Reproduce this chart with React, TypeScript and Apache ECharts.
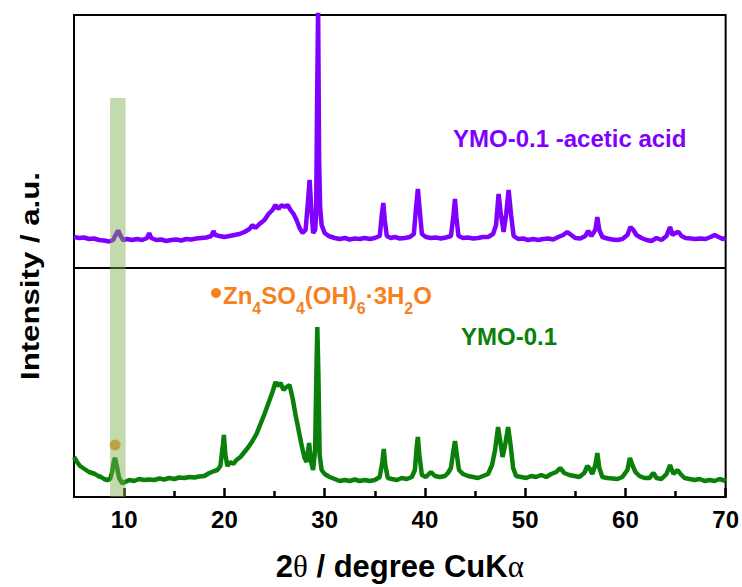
import React, { useEffect, useRef } from "react";
import * as echarts from "echarts";

// ---------- data ----------
const xMajorTicks = [10, 20, 30, 40, 50, 60, 70];
const xMinorTicks = [15, 25, 35, 45, 55, 65];

// YMO-0.1 -acetic acid (offset trace, a.u.)
const acidTheta = [
  5.0, 5.5, 6.0, 6.5, 7.0, 7.5, 8.0, 8.5, 8.9, 9.2,
  9.4, 9.6, 9.9, 10.3, 10.8, 11.3, 11.8, 12.3, 12.5, 12.7,
  13.2, 13.7, 14.2, 14.7, 15.2, 15.7, 16.2, 16.7, 17.2, 17.7,
  18.2, 18.7, 18.9, 19.1, 19.5, 20.0, 20.5, 21.0, 21.5, 22.0,
  22.5, 22.8, 23.1, 23.5, 24.0, 24.4, 24.8, 25.1, 25.4, 25.7,
  26.0, 26.3, 26.6, 26.9, 27.2, 27.5, 27.8, 28.1, 28.35, 28.5,
  28.65, 28.85, 29.05, 29.15, 29.25, 29.35, 29.45, 29.55, 29.7, 30.0,
  30.4, 31.0, 31.5, 32.0, 32.5, 33.0, 33.5, 34.0, 34.5, 35.0,
  35.5, 35.7, 35.85, 36.0, 36.2, 36.6, 37.0, 37.5, 38.0, 38.5,
  38.9, 39.1, 39.3, 39.5, 39.7, 40.1, 40.6, 41.1, 41.6, 42.1,
  42.6, 42.85, 43.0, 43.15, 43.35, 43.8, 44.3, 44.8, 45.3, 45.8,
  46.3, 46.8, 47.1, 47.35, 47.55, 47.85, 48.1, 48.35, 48.6, 48.85,
  49.3, 49.8, 50.3, 50.8, 51.3, 51.8, 52.3, 52.8, 53.3, 53.8,
  54.2, 54.6, 55.0, 55.5, 56.0, 56.3, 56.6, 57.0, 57.2, 57.4,
  57.7, 58.2, 58.7, 59.2, 59.7, 60.2, 60.5, 60.8, 61.1, 61.6,
  62.1, 62.6, 63.1, 63.6, 64.1, 64.45, 64.7, 65.0, 65.3, 65.6,
  66.0, 66.5, 67.0, 67.5, 68.0, 68.5, 68.9, 69.3, 69.7, 70.0,
];
const acidIntensity = [
  260, 259, 259.5, 258, 258.5, 257, 256.5, 255.5, 257, 263,
  266.5, 262, 257, 258, 257, 258, 257, 259, 264, 259,
  257, 257.5, 256, 257, 257.5, 256.5, 258, 257.5, 258.5, 259,
  259.5, 261, 266, 262, 261, 260, 261, 262, 263, 265,
  268, 272, 269, 273, 277, 283, 287, 292, 288, 292,
  290, 292, 287, 283, 277, 269, 264, 267, 297, 317,
  292, 264, 267, 282, 397, 490, 337, 290, 272, 264,
  261, 259, 258, 259, 257.5, 258.5, 258, 259, 258, 259,
  261, 282, 294, 277, 261, 259, 260, 258.5, 259, 260,
  263, 287, 308, 285, 263, 260, 259, 259.5, 258.5, 259.5,
  261, 282, 298, 279, 261, 259, 259.5, 258.5, 259, 260,
  260, 263, 272, 303, 285, 265, 282, 307, 282, 261,
  258, 258.5, 257, 258, 257, 258, 258.5, 257.5, 260, 262,
  265, 262, 259, 258.5, 261, 266, 261, 267, 280, 267,
  260, 258.5, 257.5, 257, 258, 262, 270, 267, 262, 259,
  257, 256, 259, 257, 261, 270, 262, 264, 265, 261,
  259, 258.5, 258, 258.5, 258, 260, 262, 260, 258, 259,
];

// YMO-0.1 (a.u.)
const ymoTheta = [
  5.0, 5.3, 5.6, 5.9, 6.2, 6.5, 6.8, 7.1, 7.4, 7.7,
  8.0, 8.3, 8.6, 8.8, 9.0, 9.1, 9.25, 9.5, 9.8, 10.1,
  10.5, 11.0, 11.5, 12.0, 12.5, 13.0, 13.5, 14.0, 14.5, 15.0,
  15.5, 16.0, 16.5, 17.0, 17.5, 18.0, 18.5, 19.0, 19.3, 19.6,
  19.85, 19.95, 20.1, 20.3, 20.6, 20.9, 21.2, 21.6, 22.0, 22.4,
  22.8, 23.2, 23.6, 24.0, 24.4, 24.8, 25.1, 25.3, 25.6, 25.9,
  26.2, 26.5, 26.8, 27.1, 27.4, 27.7, 28.0, 28.2, 28.45, 28.65,
  28.85, 29.05, 29.2, 29.27, 29.38, 29.5, 29.7, 30.0, 30.5, 31.0,
  31.5, 32.0, 32.5, 33.0, 33.5, 34.0, 34.5, 35.0, 35.5, 35.75,
  35.9, 36.05, 36.3, 36.7, 37.2, 37.7, 38.2, 38.7, 39.0, 39.2,
  39.3, 39.45, 39.7, 40.1, 40.6, 41.0, 41.5, 42.0, 42.3, 42.6,
  42.85, 43.0, 43.15, 43.4, 43.8, 44.3, 44.8, 45.3, 45.8, 46.3,
  46.7, 47.0, 47.3, 47.5, 47.75, 48.0, 48.3, 48.55, 48.8, 49.1,
  49.6, 50.1, 50.6, 51.1, 51.6, 52.1, 52.6, 53.1, 53.5, 53.9,
  54.4, 54.9, 55.4, 55.9, 56.2, 56.4, 56.7, 57.0, 57.2, 57.4,
  57.7, 58.2, 58.7, 59.2, 59.7, 60.2, 60.45, 60.7, 61.0, 61.4,
  61.9, 62.4, 62.8, 63.1, 63.6, 64.1, 64.45, 64.8, 65.2, 65.5,
  65.9, 66.4, 66.9, 67.4, 67.9, 68.4, 68.9, 69.4, 70.0,
];
const ymoIntensity = [
  40, 35, 31, 29, 27, 25, 24, 23, 21, 20,
  18, 17, 18, 25, 37, 39, 32, 19, 14, 15,
  17, 16, 18, 17, 17.5, 17, 18.5, 17.5, 19, 18,
  19.5, 19, 20, 19.5, 20.5, 21, 24, 26, 27, 31,
  52, 62, 42, 31, 35, 33, 37, 40, 45, 50,
  56, 63, 73, 83, 94, 105, 115, 111, 114, 107,
  110, 112, 99, 82, 67, 52, 39, 35, 54, 35,
  27, 47, 137, 170, 122, 42, 27, 23, 20, 18,
  16, 17, 16, 17.5, 16, 17, 16, 17, 20, 35,
  48, 32, 19, 18, 17, 19, 18, 20, 27, 52,
  60, 42, 22, 20, 25, 21, 20, 21, 24, 29,
  47, 56, 45, 27, 23, 21, 20, 19, 21, 23,
  32, 47, 70, 57, 40, 52, 70, 52, 29, 21,
  20, 19, 21, 20, 22, 20, 23, 25, 29, 24,
  22, 21, 20, 24, 31, 29, 23, 32, 44, 29,
  20, 19, 18.5, 18, 20, 27, 39, 32, 25, 21,
  19, 19, 24, 19, 18, 23, 32, 23, 27, 23,
  19, 18, 17, 18, 16, 17, 16, 18, 16,
];

// Zn4SO4(OH)6·3H2O marker
const phaseMarkTheta = [9.1];
const phaseMarkIntensity = [52];

// highlighted 2θ band and panel divider
const bandTheta = [8.6, 10.15];
const bandTop = [399];
const dividerLevel = [229];

const Y_MAX = 482;

const PURPLE = "#8000FF";
const GREEN = "#0A800A";
const ORANGE = "#F5821F";
const FONT = "'Liberation Sans', Arial, sans-serif";

export default function App() {
  const ref = useRef<HTMLDivElement>(null);

  useEffect(() => {
    if (!ref.current) return;
    const chart = echarts.init(ref.current, null, { renderer: "svg" });

    const acidData = acidTheta.map((t, i) => [t, acidIntensity[i]]);
    const ymoData = ymoTheta.map((t, i) => [t, ymoIntensity[i]]);
    const markData = phaseMarkTheta.map((t, i) => [t, phaseMarkIntensity[i]]);

    const option: any = {
      animation: false,
      grid: {
        left: 74,
        right: 16,
        top: 15,
        bottom: 90,
        show: true,
        borderColor: "#000",
        borderWidth: 2,
      },
      xAxis: [
        {
          type: "value",
          min: 5,
          max: 70,
          splitLine: { show: false },
          axisLine: { show: true, onZero: false, lineStyle: { color: "#000", width: 2 } },
          axisTick: {
            show: true,
            inside: true,
            length: 9,
            customValues: xMajorTicks,
            lineStyle: { color: "#000", width: 2.5 },
          },
          axisLabel: {
            customValues: xMajorTicks,
            color: "#000",
            fontSize: 24,
            fontWeight: "bold",
            fontFamily: FONT,
            margin: 10,
          },
          name: "{a|2}{g|θ}{a| / degree CuK}{g|α}",
          nameLocation: "middle",
          nameGap: 54,
          nameTextStyle: {
            rich: {
              a: { fontSize: 31, fontWeight: "bold", fontFamily: FONT, color: "#000" },
              g: { fontSize: 31, fontWeight: "normal", fontFamily: "'Liberation Serif', serif", color: "#000" },
            },
          },
        },
        {
          type: "value",
          min: 5,
          max: 70,
          position: "bottom",
          splitLine: { show: false },
          axisLine: { show: false, onZero: false },
          axisTick: {
            show: true,
            inside: true,
            length: 6,
            customValues: xMinorTicks,
            lineStyle: { color: "#000", width: 2.5 },
          },
          axisLabel: { show: false },
        },
      ],
      yAxis: {
        type: "value",
        min: 0,
        max: Y_MAX,
        splitLine: { show: false },
        axisLine: { show: true, lineStyle: { color: "#000", width: 2 } },
        axisTick: { show: false },
        axisLabel: { show: false },
      },
      series: [
        {
          name: "YMO-0.1 -acetic acid",
          type: "line",
          data: acidData,
          showSymbol: false,
          symbol: "none",
          clip: true,
          lineStyle: { color: PURPLE, width: 4.5 },
          z: 2,
          markLine: {
            silent: true,
            symbol: "none",
            label: { show: false },
            lineStyle: { color: "#000", width: 2, type: "solid" },
            data: dividerLevel.map((v) => ({ yAxis: v })),
          },
        },
        {
          name: "YMO-0.1",
          type: "line",
          data: ymoData,
          showSymbol: false,
          symbol: "none",
          clip: true,
          lineStyle: { color: GREEN, width: 4.5 },
          z: 2,
        },
        {
          name: "Zn4SO4(OH)6·3H2O",
          type: "scatter",
          data: markData,
          symbolSize: 11,
          itemStyle: { color: ORANGE },
          z: 3,
        },
        {
          name: "band",
          type: "line",
          data: [],
          markArea: {
            silent: true,
            z: 10,
            itemStyle: { color: "rgba(120,172,72,0.45)" },
            data: [[{ xAxis: bandTheta[0], yAxis: 0 }, { xAxis: bandTheta[1], yAxis: bandTop[0] }]],
          },
        },
      ],
      graphic: [
        {
          type: "text",
          x: 30,
          y: 276,
          rotation: Math.PI / 2,
          scaleX: 1.2,
          style: {
            text: "Intensity / a.u.",
            fontSize: 26,
            fontWeight: "bold",
            fontFamily: FONT,
            fill: "#000",
            align: "center",
            verticalAlign: "middle",
          },
        },
        {
          type: "text",
          x: 453,
          y: 138,
          style: {
            text: "YMO-0.1 -acetic acid",
            fontSize: 24,
            fontWeight: "bold",
            fontFamily: FONT,
            fill: PURPLE,
            align: "left",
            verticalAlign: "middle",
          },
        },
        {
          type: "text",
          x: 461,
          y: 336,
          style: {
            text: "YMO-0.1",
            fontSize: 24,
            fontWeight: "bold",
            fontFamily: FONT,
            fill: GREEN,
            align: "left",
            verticalAlign: "middle",
          },
        },
        {
          type: "circle",
          shape: { cx: 216, cy: 293, r: 5 },
          style: { fill: ORANGE },
        },
        {
          type: "text",
          x: 223,
          y: 283,
          style: {
            text: "{m|Zn}{s|4}{m|SO}{s|4}{m|(OH)}{s|6}{m|·3H}{s|2}{m|O}",
            align: "left",
            verticalAlign: "top",
            rich: {
              m: {
                fontSize: 24,
                fontWeight: "bold",
                fontFamily: FONT,
                fill: ORANGE,
                lineHeight: 24,
                verticalAlign: "top",
              },
              s: {
                fontSize: 16,
                fontWeight: "bold",
                fontFamily: FONT,
                fill: ORANGE,
                verticalAlign: "top",
                padding: [17, 0, 0, 0],
              },
            },
          },
        },
      ],
    };

    chart.setOption(option);
    return () => chart.dispose();
  }, []);

  return (
    <div
      ref={ref}
      style={{ position: "absolute", left: 0, top: 0, width: 742, height: 587, background: "#fff" }}
    />
  );
}
